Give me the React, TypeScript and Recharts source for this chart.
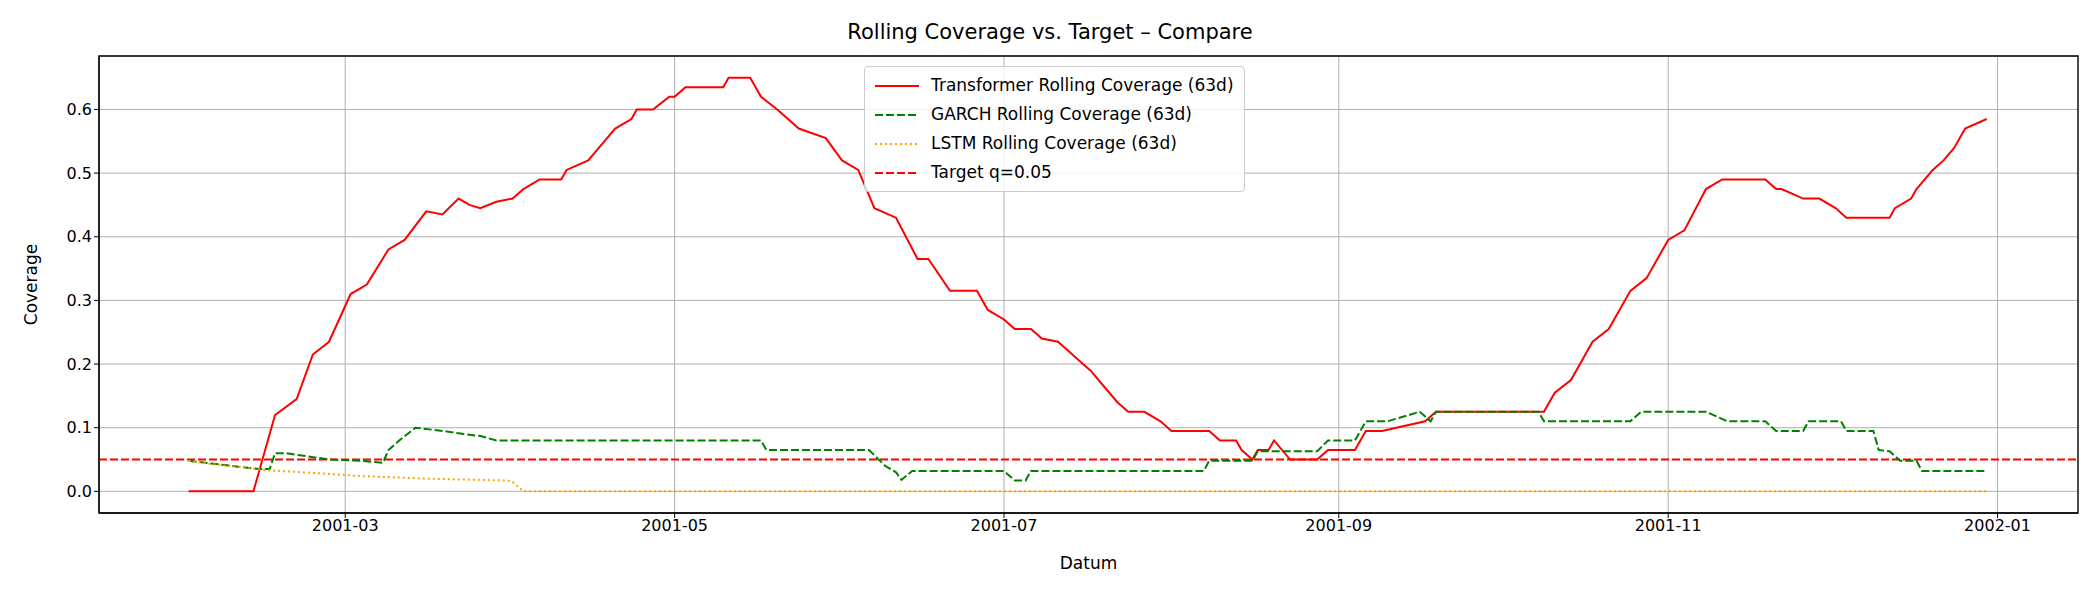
import React from 'react';
import {
  LineChart,
  Line,
  XAxis,
  YAxis,
  CartesianGrid,
  ReferenceLine,
  ReferenceArea,
} from 'recharts';

// x values are days since 2001-01-01
const transformerDays = [30, 42, 46, 50, 53, 56, 60, 63, 67, 70, 74, 77, 80, 82, 84, 87, 90, 92, 95, 99, 100, 104, 106, 109, 112, 113, 116, 119, 120, 122, 129, 130, 134, 135, 136, 139, 141, 143, 148, 151, 154, 157, 161, 165, 167, 171, 176, 178, 181, 183, 186, 188, 191, 193, 195, 197, 200, 202, 204, 207, 210, 212, 219, 221, 224, 225, 227, 228, 230, 231, 234, 239, 241, 246, 248, 251, 259, 261, 281, 283, 286, 290, 293, 297, 300, 304, 307, 311, 314, 322, 324, 325, 329, 332, 335, 337, 345, 346, 349, 350, 353, 355, 357, 359, 363];
const transformerVals = [0, 0, 0.12, 0.145, 0.215, 0.235, 0.31, 0.325, 0.38, 0.395, 0.44, 0.435, 0.46, 0.45, 0.445, 0.455, 0.46, 0.475, 0.49, 0.49, 0.505, 0.52, 0.54, 0.57, 0.585, 0.6, 0.6, 0.62, 0.62, 0.635, 0.635, 0.65, 0.65, 0.635, 0.62, 0.6, 0.585, 0.57, 0.555, 0.52, 0.505, 0.445, 0.43, 0.365, 0.365, 0.315, 0.315, 0.285, 0.27, 0.255, 0.255, 0.24, 0.235, 0.22, 0.205, 0.19, 0.16, 0.14, 0.125, 0.125, 0.11, 0.095, 0.095, 0.08, 0.08, 0.065, 0.05, 0.065, 0.065, 0.08, 0.05, 0.05, 0.065, 0.065, 0.095, 0.095, 0.11, 0.125, 0.125, 0.155, 0.175, 0.235, 0.255, 0.315, 0.335, 0.395, 0.41, 0.475, 0.49, 0.49, 0.475, 0.475, 0.46, 0.46, 0.445, 0.43, 0.43, 0.445, 0.46, 0.475, 0.505, 0.52, 0.54, 0.57, 0.585];

const garchDays = [30, 43, 45, 46, 48, 52, 56, 62, 66, 67, 69, 72, 77, 81, 84, 87, 136, 137, 156, 159, 161, 162, 164, 181, 183, 185, 186, 218, 219, 227, 228, 239, 241, 246, 248, 252, 258, 260, 261, 280, 281, 297, 299, 311, 315, 322, 324, 329, 330, 336, 337, 342, 343, 345, 347, 350, 351, 363];
const garchVals = [0.048, 0.035, 0.035, 0.06, 0.06, 0.055, 0.05, 0.048, 0.045, 0.065, 0.08, 0.1, 0.095, 0.09, 0.087, 0.08, 0.08, 0.065, 0.065, 0.04, 0.03, 0.018, 0.032, 0.032, 0.017, 0.017, 0.032, 0.032, 0.048, 0.048, 0.063, 0.063, 0.08, 0.08, 0.11, 0.11, 0.125, 0.11, 0.125, 0.125, 0.11, 0.11, 0.125, 0.125, 0.11, 0.11, 0.095, 0.095, 0.11, 0.11, 0.095, 0.095, 0.065, 0.063, 0.048, 0.048, 0.032, 0.032];

const lstmDays = [30, 37, 45, 55, 62, 74, 89, 90, 92, 363];
const lstmVals = [0.048, 0.04, 0.033, 0.028, 0.024, 0.02, 0.017, 0.015, 0, 0];

const TARGET = 0.05;
const X_TICKS = [59, 120, 181, 243, 304, 365];
const X_LABELS = ['2001-03', '2001-05', '2001-07', '2001-09', '2001-11', '2002-01'];
const Y_TICKS = [0, 0.1, 0.2, 0.3, 0.4, 0.5, 0.6];

const zip = (days: number[], vals: number[]) => days.map((d, i) => ({ d, v: vals[i] }));
const transformer = zip(transformerDays, transformerVals);
const garch = zip(garchDays, garchVals);
const lstm = zip(lstmDays, lstmVals);

const X_DOMAIN: [number, number] = [13.4, 379.9];
const Y_DOMAIN: [number, number] = [-0.034, 0.684];

const FONT = 'DejaVu Sans, sans-serif';

const legendItems = [
  { label: 'Transformer Rolling Coverage (63d)', color: '#ff0000', dash: undefined },
  { label: 'GARCH Rolling Coverage (63d)', color: '#008000', dash: '8 3' },
  { label: 'LSTM Rolling Coverage (63d)', color: '#ffa500', dash: '2 3' },
  { label: 'Target q=0.05', color: '#ff0000', dash: '8 3' },
];

function LegendBox() {
  return (
    <div
      style={{
        position: 'absolute',
        left: 864,
        top: 66,
        background: 'rgba(255,255,255,0.8)',
        border: '1px solid #cccccc',
        borderRadius: 4,
        padding: '4px 10px',
        fontFamily: FONT,
        fontSize: 17,
        lineHeight: '29px',
        zIndex: 2,
      }}
    >
      {legendItems.map((it) => (
        <div key={it.label} style={{ display: 'flex', alignItems: 'center' }}>
          <svg width={44} height={10} style={{ marginRight: 12 }}>
            <line x1={0} y1={5} x2={44} y2={5} stroke={it.color} strokeWidth={2} strokeDasharray={it.dash} />
          </svg>
          <span>{it.label}</span>
        </div>
      ))}
    </div>
  );
}

export default function App() {
  return (
    <div style={{ position: 'absolute', left: 0, top: 0, width: 2100, height: 600, background: '#fff' }}>
      <div
        style={{
          position: 'absolute',
          top: 20,
          width: 2100,
          textAlign: 'center',
          fontFamily: FONT,
          fontSize: 21,
        }}
      >
        Rolling Coverage vs. Target – Compare
      </div>
      <LineChart width={2100} height={600} margin={{ top: 56, right: 22, bottom: 37, left: 39 }}>
        <CartesianGrid stroke="#b0b0b0" strokeWidth={1} />
        <XAxis
          type="number"
          dataKey="d"
          domain={X_DOMAIN}
          ticks={X_TICKS}
          tickFormatter={(v: number) => X_LABELS[X_TICKS.indexOf(v)]}
          allowDataOverflow
          height={50}
          stroke="#000"
          tick={{ fontSize: 16, fill: '#000', fontFamily: FONT }}
          tickSize={5}
          label={{ value: 'Datum', position: 'insideBottom', offset: -6, fontSize: 17, fill: '#000', fontFamily: FONT }}
        />
        <YAxis
          type="number"
          domain={Y_DOMAIN}
          ticks={Y_TICKS}
          tickFormatter={(v: number) => v.toFixed(1)}
          allowDataOverflow
          width={60}
          stroke="#000"
          tick={{ fontSize: 16, fill: '#000', fontFamily: FONT }}
          tickSize={5}
          label={{ value: 'Coverage', angle: -90, position: 'insideLeft', offset: -8, fontSize: 17, fill: '#000', fontFamily: FONT, style: { textAnchor: 'middle' } }}
        />
        <ReferenceArea x1={X_DOMAIN[0]} x2={X_DOMAIN[1]} y1={Y_DOMAIN[0]} y2={Y_DOMAIN[1]} fill="none" stroke="#000" strokeWidth={1.3} />
        <ReferenceLine y={TARGET} stroke="#ff0000" strokeWidth={2} strokeDasharray="8 3" />
        <Line data={transformer} dataKey="v" stroke="#ff0000" strokeWidth={2} dot={false} isAnimationActive={false} />
        <Line data={garch} dataKey="v" stroke="#008000" strokeWidth={2} strokeDasharray="8 3" dot={false} isAnimationActive={false} />
        <Line data={lstm} dataKey="v" stroke="#ffa500" strokeWidth={2} strokeDasharray="2 3" dot={false} isAnimationActive={false} />
      </LineChart>
      <LegendBox />
    </div>
  );
}
